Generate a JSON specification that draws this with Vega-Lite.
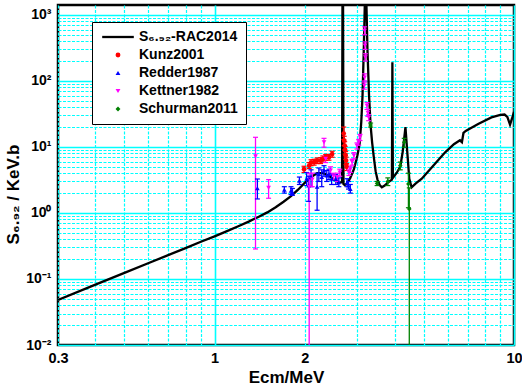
{
  "$schema": "https://vega.github.io/schema/vega-lite/v6.json",
  "width": 456,
  "height": 340,
  "autosize": {"type": "none"},
  "padding": {"left": 58, "top": 5, "right": 8, "bottom": 44},
  "background": "white",
  "config": {
    "view": {"stroke": "black", "strokeWidth": 2.5},
    "font": "Liberation Sans",
    "axis": {
      "ticks": false,
      "domain": false,
      "gridColor": "#00ffff",
      "gridOpacity": 1,
      "labelFont": "Liberation Sans",
      "labelFontWeight": "bold",
      "labelColor": "black",
      "titleFont": "Liberation Sans",
      "titleFontWeight": "bold",
      "titleColor": "black",
      "titleFontSize": 17,
      "labelOverlap": false,
      "labelFlush": false,
      "labelBound": false
    }
  },
  "datasets": {
    "curve": [
      {"s": "S₆.₉₂-RAC2014", "x": 0.3, "y": 0.048},
      {"s": "S₆.₉₂-RAC2014", "x": 0.4, "y": 0.082},
      {"s": "S₆.₉₂-RAC2014", "x": 0.5, "y": 0.124},
      {"s": "S₆.₉₂-RAC2014", "x": 0.6, "y": 0.173},
      {"s": "S₆.₉₂-RAC2014", "x": 0.7, "y": 0.23},
      {"s": "S₆.₉₂-RAC2014", "x": 0.8, "y": 0.294},
      {"s": "S₆.₉₂-RAC2014", "x": 0.9, "y": 0.366},
      {"s": "S₆.₉₂-RAC2014", "x": 1.0, "y": 0.442},
      {"s": "S₆.₉₂-RAC2014", "x": 1.1, "y": 0.53},
      {"s": "S₆.₉₂-RAC2014", "x": 1.2, "y": 0.63},
      {"s": "S₆.₉₂-RAC2014", "x": 1.3, "y": 0.74},
      {"s": "S₆.₉₂-RAC2014", "x": 1.4, "y": 0.87},
      {"s": "S₆.₉₂-RAC2014", "x": 1.5, "y": 1.02},
      {"s": "S₆.₉₂-RAC2014", "x": 1.6, "y": 1.22},
      {"s": "S₆.₉₂-RAC2014", "x": 1.7, "y": 1.48},
      {"s": "S₆.₉₂-RAC2014", "x": 1.8, "y": 1.8},
      {"s": "S₆.₉₂-RAC2014", "x": 1.9, "y": 2.25},
      {"s": "S₆.₉₂-RAC2014", "x": 2.0, "y": 2.85},
      {"s": "S₆.₉₂-RAC2014", "x": 2.1, "y": 3.5},
      {"s": "S₆.₉₂-RAC2014", "x": 2.2, "y": 4.0},
      {"s": "S₆.₉₂-RAC2014", "x": 2.3, "y": 4.0},
      {"s": "S₆.₉₂-RAC2014", "x": 2.4, "y": 3.7},
      {"s": "S₆.₉₂-RAC2014", "x": 2.5, "y": 3.2},
      {"s": "S₆.₉₂-RAC2014", "x": 2.6, "y": 2.9},
      {"s": "S₆.₉₂-RAC2014", "x": 2.665, "y": 2.9},
      {"s": "S₆.₉₂-RAC2014", "x": 2.68, "y": 100000},
      {"s": "S₆.₉₂-RAC2014", "x": 2.695, "y": 2.75},
      {"s": "S₆.₉₂-RAC2014", "x": 2.72, "y": 2.65},
      {"s": "S₆.₉₂-RAC2014", "x": 2.77, "y": 2.8},
      {"s": "S₆.₉₂-RAC2014", "x": 2.84, "y": 3.4},
      {"s": "S₆.₉₂-RAC2014", "x": 2.92, "y": 4.6},
      {"s": "S₆.₉₂-RAC2014", "x": 3.0, "y": 7.5},
      {"s": "S₆.₉₂-RAC2014", "x": 3.05, "y": 11},
      {"s": "S₆.₉₂-RAC2014", "x": 3.09, "y": 24},
      {"s": "S₆.₉₂-RAC2014", "x": 3.12, "y": 60},
      {"s": "S₆.₉₂-RAC2014", "x": 3.15, "y": 300},
      {"s": "S₆.₉₂-RAC2014", "x": 3.195, "y": 5000},
      {"s": "S₆.₉₂-RAC2014", "x": 3.24, "y": 300},
      {"s": "S₆.₉₂-RAC2014", "x": 3.28, "y": 60},
      {"s": "S₆.₉₂-RAC2014", "x": 3.32, "y": 21},
      {"s": "S₆.₉₂-RAC2014", "x": 3.36, "y": 11.5},
      {"s": "S₆.₉₂-RAC2014", "x": 3.4, "y": 7.2},
      {"s": "S₆.₉₂-RAC2014", "x": 3.45, "y": 4.3},
      {"s": "S₆.₉₂-RAC2014", "x": 3.5, "y": 3.2},
      {"s": "S₆.₉₂-RAC2014", "x": 3.56, "y": 2.65},
      {"s": "S₆.₉₂-RAC2014", "x": 3.62, "y": 2.45},
      {"s": "S₆.₉₂-RAC2014", "x": 3.7, "y": 2.6},
      {"s": "S₆.₉₂-RAC2014", "x": 3.81, "y": 2.95},
      {"s": "S₆.₉₂-RAC2014", "x": 3.91, "y": 3.2},
      {"s": "S₆.₉₂-RAC2014", "x": 3.925, "y": 192},
      {"s": "S₆.₉₂-RAC2014", "x": 3.94, "y": 3.4},
      {"s": "S₆.₉₂-RAC2014", "x": 4.05, "y": 4.0},
      {"s": "S₆.₉₂-RAC2014", "x": 4.17, "y": 5.0},
      {"s": "S₆.₉₂-RAC2014", "x": 4.25, "y": 8.5},
      {"s": "S₆.₉₂-RAC2014", "x": 4.34, "y": 20},
      {"s": "S₆.₉₂-RAC2014", "x": 4.4, "y": 8.5},
      {"s": "S₆.₉₂-RAC2014", "x": 4.47, "y": 3.3},
      {"s": "S₆.₉₂-RAC2014", "x": 4.55, "y": 2.45},
      {"s": "S₆.₉₂-RAC2014", "x": 4.7, "y": 2.8},
      {"s": "S₆.₉₂-RAC2014", "x": 4.92, "y": 3.3},
      {"s": "S₆.₉₂-RAC2014", "x": 5.31, "y": 4.9},
      {"s": "S₆.₉₂-RAC2014", "x": 5.89, "y": 8.3},
      {"s": "S₆.₉₂-RAC2014", "x": 6.3, "y": 11},
      {"s": "S₆.₉₂-RAC2014", "x": 6.6, "y": 12.6},
      {"s": "S₆.₉₂-RAC2014", "x": 6.7, "y": 11.8},
      {"s": "S₆.₉₂-RAC2014", "x": 6.78, "y": 16.3},
      {"s": "S₆.₉₂-RAC2014", "x": 6.9, "y": 17.5},
      {"s": "S₆.₉₂-RAC2014", "x": 7.59, "y": 22.3},
      {"s": "S₆.₉₂-RAC2014", "x": 8.41, "y": 28},
      {"s": "S₆.₉₂-RAC2014", "x": 9.0, "y": 30.5},
      {"s": "S₆.₉₂-RAC2014", "x": 9.3, "y": 31},
      {"s": "S₆.₉₂-RAC2014", "x": 9.5, "y": 28.5},
      {"s": "S₆.₉₂-RAC2014", "x": 9.7, "y": 21.8},
      {"s": "S₆.₉₂-RAC2014", "x": 9.85, "y": 27},
      {"s": "S₆.₉₂-RAC2014", "x": 10, "y": 34}
    ],
    "pts": [
      {"s": "Kunz2001", "x": 1.99, "y": 4.6, "lo": 4.1, "hi": 5.1},
      {"s": "Kunz2001", "x": 2.07, "y": 5.2, "lo": 4.7, "hi": 5.8},
      {"s": "Kunz2001", "x": 2.1, "y": 5.8, "lo": 5.2, "hi": 6.4},
      {"s": "Kunz2001", "x": 2.15, "y": 5.9, "lo": 5.3, "hi": 6.5},
      {"s": "Kunz2001", "x": 2.2, "y": 6.2, "lo": 5.6, "hi": 6.8},
      {"s": "Kunz2001", "x": 2.26, "y": 6.2, "lo": 5.6, "hi": 6.9},
      {"s": "Kunz2001", "x": 2.3, "y": 6.6, "lo": 5.9, "hi": 7.3},
      {"s": "Kunz2001", "x": 2.35, "y": 7.0, "lo": 6.3, "hi": 7.7},
      {"s": "Kunz2001", "x": 2.41, "y": 7.0, "lo": 6.3, "hi": 7.7},
      {"s": "Kunz2001", "x": 2.47, "y": 7.8, "lo": 7.0, "hi": 8.6},
      {"s": "Kunz2001", "x": 2.7, "y": 16, "lo": 13, "hi": 20},
      {"s": "Kunz2001", "x": 2.71, "y": 12.5, "lo": 10.5, "hi": 14.5},
      {"s": "Kunz2001", "x": 2.72, "y": 10.5, "lo": 9, "hi": 12},
      {"s": "Kunz2001", "x": 2.73, "y": 9, "lo": 7.8, "hi": 10.2},
      {"s": "Kunz2001", "x": 2.74, "y": 7.5, "lo": 6.5, "hi": 8.5},
      {"s": "Kunz2001", "x": 2.75, "y": 6.2, "lo": 5.4, "hi": 7},
      {"s": "Kunz2001", "x": 2.76, "y": 5, "lo": 4.4, "hi": 5.6},
      {"s": "Redder1987", "x": 1.39, "y": 2.37, "lo": 1.63, "hi": 3.27},
      {"s": "Redder1987", "x": 1.71, "y": 2.25, "lo": 2.0, "hi": 2.5},
      {"s": "Redder1987", "x": 1.8, "y": 2.18, "lo": 1.9, "hi": 2.5},
      {"s": "Redder1987", "x": 1.82, "y": 2.06, "lo": 1.85, "hi": 2.35},
      {"s": "Redder1987", "x": 1.92, "y": 3.09, "lo": 2.7, "hi": 3.5},
      {"s": "Redder1987", "x": 2.03, "y": 3.3, "lo": 2.6, "hi": 4.1},
      {"s": "Redder1987", "x": 2.06, "y": 2.6, "lo": 1.5, "hi": 3.6},
      {"s": "Redder1987", "x": 2.1, "y": 3.5, "lo": 2.5, "hi": 4.5},
      {"s": "Redder1987", "x": 2.2, "y": 2.5, "lo": 1.1, "hi": 4.0},
      {"s": "Redder1987", "x": 2.23, "y": 3.9, "lo": 3.0, "hi": 4.8},
      {"s": "Redder1987", "x": 2.28, "y": 3.5, "lo": 2.5, "hi": 4.5},
      {"s": "Redder1987", "x": 2.32, "y": 4.4, "lo": 3.6, "hi": 5.2},
      {"s": "Redder1987", "x": 2.37, "y": 3.7, "lo": 3.0, "hi": 4.4},
      {"s": "Redder1987", "x": 2.41, "y": 3.9, "lo": 3.2, "hi": 4.6},
      {"s": "Redder1987", "x": 2.46, "y": 3.3, "lo": 2.7, "hi": 3.9},
      {"s": "Redder1987", "x": 2.54, "y": 3.27, "lo": 2.7, "hi": 3.8},
      {"s": "Redder1987", "x": 2.6, "y": 2.92, "lo": 2.5, "hi": 3.4},
      {"s": "Redder1987", "x": 2.77, "y": 2.9, "lo": 2.5, "hi": 3.3},
      {"s": "Redder1987", "x": 2.8, "y": 2.6, "lo": 2.3, "hi": 3.0},
      {"s": "Redder1987", "x": 2.84, "y": 2.3, "lo": 2.0, "hi": 2.7},
      {"s": "Kettner1982", "x": 1.37, "y": 7.2, "lo": 0.285, "hi": 14},
      {"s": "Kettner1982", "x": 1.515, "y": 2.4, "lo": 1.67, "hi": 3.2},
      {"s": "Kettner1982", "x": 2.07, "y": 2.5, "lo": 0.005, "hi": 4.0},
      {"s": "Kettner1982", "x": 2.12, "y": 3.2, "lo": 2.5, "hi": 4.0},
      {"s": "Kettner1982", "x": 2.32, "y": 11.8, "lo": 9.9, "hi": 13.5},
      {"s": "Kettner1982", "x": 2.35, "y": 6.6, "lo": 5.8, "hi": 7.4},
      {"s": "Kettner1982", "x": 2.44, "y": 4.4, "lo": 3.9, "hi": 5.0},
      {"s": "Kettner1982", "x": 2.5, "y": 3.6, "lo": 3.2, "hi": 4.0},
      {"s": "Kettner1982", "x": 2.57, "y": 3.5, "lo": 3.0, "hi": 4.0},
      {"s": "Kettner1982", "x": 2.62, "y": 4.1, "lo": 3.6, "hi": 4.6},
      {"s": "Kettner1982", "x": 2.81, "y": 4.1, "lo": 3.7, "hi": 4.5},
      {"s": "Kettner1982", "x": 2.84, "y": 4.6, "lo": 4.1, "hi": 5.1},
      {"s": "Kettner1982", "x": 2.88, "y": 5.9, "lo": 5.3, "hi": 6.5},
      {"s": "Kettner1982", "x": 2.92, "y": 7.4, "lo": 6.6, "hi": 8.2},
      {"s": "Kettner1982", "x": 2.99, "y": 10.4, "lo": 9.3, "hi": 11.5},
      {"s": "Kettner1982", "x": 3.03, "y": 11.8, "lo": 10.6, "hi": 13},
      {"s": "Kettner1982", "x": 3.06, "y": 14, "lo": 12.5, "hi": 15.5},
      {"s": "Kettner1982", "x": 3.165, "y": 85, "lo": 75, "hi": 96},
      {"s": "Kettner1982", "x": 3.17, "y": 113, "lo": 100, "hi": 128},
      {"s": "Kettner1982", "x": 3.19, "y": 228, "lo": 200, "hi": 258},
      {"s": "Kettner1982", "x": 3.18, "y": 343, "lo": 300, "hi": 390},
      {"s": "Kettner1982", "x": 3.17, "y": 577, "lo": 500, "hi": 660},
      {"s": "Kettner1982", "x": 3.23, "y": 42, "lo": 37, "hi": 47},
      {"s": "Kettner1982", "x": 3.25, "y": 33, "lo": 29, "hi": 37},
      {"s": "Kettner1982", "x": 3.27, "y": 28, "lo": 25, "hi": 31},
      {"s": "Schurman2011", "x": 3.32, "y": 21.5, "lo": 20, "hi": 23},
      {"s": "Schurman2011", "x": 3.49, "y": 2.8, "lo": 2.6, "hi": 3.0},
      {"s": "Schurman2011", "x": 3.79, "y": 3.0, "lo": 2.6, "hi": 3.4},
      {"s": "Schurman2011", "x": 4.17, "y": 5.2, "lo": 4.5, "hi": 5.9},
      {"s": "Schurman2011", "x": 4.3, "y": 11.8, "lo": 9.9, "hi": 13.5},
      {"s": "Schurman2011", "x": 4.44, "y": 2.75, "lo": 1.2, "hi": 4.0},
      {"s": "Schurman2011", "x": 4.47, "y": 1.15, "lo": 0.001, "hi": 2.4}
    ]
  },
  "layer": [
    {
      "data": {"name": "curve"},
      "mark": {"type": "line", "clip": true, "strokeWidth": 2.3},
      "encoding": {
        "x": {
          "field": "x", "type": "quantitative", "title": "Ecm/MeV",
          "scale": {"type": "log", "domain": [0.3, 10], "nice": false},
          "axis": {
            "values": [0.3, 0.4, 0.5, 0.6, 0.7, 0.8, 0.9, 1, 2, 3, 4, 5, 6, 7, 8, 9, 10],
            "labelExpr": "datum.value == 0.3 ? '0.3' : datum.value == 1 ? '1' : datum.value == 2 ? '2' : datum.value == 10 ? '10' : ''",
            "labelFontSize": 14.5,
            "labelPadding": 6,
            "gridColor": "#00ffff",
            "gridDash": {"condition": {"test": "datum.value == 1 || datum.value == 10", "value": []}, "value": [3, 1.5]},
            "gridWidth": {"condition": {"test": "datum.value == 1 || datum.value == 10", "value": 1.6}, "value": 1.2},
            "titleY": 37,
            "titleBaseline": "alphabetic"
          }
        },
        "y": {
          "field": "y", "type": "quantitative", "title": "S₆.₉₂ / KeV.b",
          "scale": {"type": "log", "domain": [0.01, 1413], "nice": false},
          "axis": {
            "values": [0.01, 0.02, 0.03, 0.04, 0.05, 0.06, 0.07, 0.08, 0.09, 0.1, 0.2, 0.3, 0.4, 0.5, 0.6, 0.7, 0.8, 0.9, 1, 2, 3, 4, 5, 6, 7, 8, 9, 10, 20, 30, 40, 50, 60, 70, 80, 90, 100, 200, 300, 400, 500, 600, 700, 800, 900, 1000],
            "labelExpr": "datum.value == 1000 ? '10³' : datum.value == 100 ? '10²' : datum.value == 10 ? '10¹' : datum.value == 1 ? '10⁰' : datum.value == 0.1 ? '10⁻¹' : datum.value == 0.01 ? '10⁻²' : ''",
            "labelFontSize": 14,
            "labelPadding": 7,
            "gridColor": "#00ffff",
            "gridDash": {"condition": {"test": "indexof([0.01, 0.1, 1, 10, 100, 1000], datum.value) >= 0", "value": []}, "value": [3, 1.5]},
            "gridWidth": {"condition": {"test": "indexof([0.01, 0.1, 1, 10, 100, 1000], datum.value) >= 0", "value": 1.6}, "value": 1.2},
            "titleX": -36,
            "titleY": 189,
            "titleAngle": 270,
            "titleAlign": "center",
            "titleBaseline": "bottom"
          }
        },
        "color": {
          "field": "s", "type": "nominal",
          "scale": {"domain": ["S₆.₉₂-RAC2014", "Kunz2001", "Redder1987", "Kettner1982", "Schurman2011"], "range": ["black", "#ff0000", "#0000ff", "#ff00ff", "#008000"]},
          "legend": {
            "title": null, "orient": "none", "legendX": 34, "legendY": 17,
            "padding": 8, "strokeColor": "black", "fillColor": "white",
            "labelFont": "Liberation Sans", "labelFontSize": 14, "labelFontWeight": "bold", "labelColor": "black",
            "symbolSize": 1000, "symbolOffset": 11, "labelOffset": 14, "rowPadding": 4, "symbolOpacity": 1,
            "encode": {"symbols": {"update": {
              "size": {"signal": "datum.value === 'S₆.₉₂-RAC2014' ? 1000 : 24"},
              "stroke": {"scale": "color", "field": "value"},
              "strokeWidth": {"signal": "datum.value === 'S₆.₉₂-RAC2014' ? 2.3 : 0"}
            }}}
          }
        }
      }
    },
    {
      "data": {"name": "pts"},
      "mark": {"type": "rule", "clip": true, "strokeWidth": 1.3},
      "encoding": {
        "x": {"field": "x", "type": "quantitative", "title": "Ecm/MeV"},
        "y": {"field": "lo", "type": "quantitative", "title": "S₆.₉₂ / KeV.b"},
        "y2": {"field": "hi"},
        "color": {"field": "s", "type": "nominal", "legend": null}
      }
    },
    {
      "data": {"name": "pts"},
      "mark": {"type": "tick", "clip": true, "orient": "horizontal", "size": 5, "thickness": 1.2, "opacity": 1},
      "encoding": {
        "x": {"field": "x", "type": "quantitative", "title": "Ecm/MeV"},
        "y": {"field": "lo", "type": "quantitative", "title": "S₆.₉₂ / KeV.b"},
        "color": {"field": "s", "type": "nominal", "legend": null}
      }
    },
    {
      "data": {"name": "pts"},
      "mark": {"type": "tick", "clip": true, "orient": "horizontal", "size": 5, "thickness": 1.2, "opacity": 1},
      "encoding": {
        "x": {"field": "x", "type": "quantitative", "title": "Ecm/MeV"},
        "y": {"field": "hi", "type": "quantitative", "title": "S₆.₉₂ / KeV.b"},
        "color": {"field": "s", "type": "nominal", "legend": null}
      }
    },
    {
      "data": {"name": "pts"},
      "mark": {"type": "point", "filled": true, "clip": true, "size": 22, "opacity": 1},
      "encoding": {
        "x": {"field": "x", "type": "quantitative", "title": "Ecm/MeV"},
        "y": {"field": "y", "type": "quantitative", "title": "S₆.₉₂ / KeV.b"},
        "color": {
          "field": "s", "type": "nominal",
          "legend": {
            "title": null, "orient": "none", "legendX": 34, "legendY": 17,
            "padding": 8, "strokeColor": "black", "fillColor": "white",
            "labelFont": "Liberation Sans", "labelFontSize": 14, "labelFontWeight": "bold", "labelColor": "black",
            "symbolSize": 1000, "symbolOffset": 11, "labelOffset": 14, "rowPadding": 4, "symbolOpacity": 1,
            "encode": {"symbols": {"update": {
              "size": {"signal": "datum.value === 'S₆.₉₂-RAC2014' ? 1000 : 24"},
              "stroke": {"scale": "color", "field": "value"},
              "strokeWidth": {"signal": "datum.value === 'S₆.₉₂-RAC2014' ? 2.3 : 0"}
            }}}
          }
        },
        "shape": {
          "field": "s", "type": "nominal",
          "scale": {"domain": ["S₆.₉₂-RAC2014", "Kunz2001", "Redder1987", "Kettner1982", "Schurman2011"], "range": ["stroke", "circle", "triangle-up", "triangle-down", "diamond"]},
          "legend": {
            "title": null, "orient": "none", "legendX": 34, "legendY": 17,
            "padding": 8, "strokeColor": "black", "fillColor": "white",
            "labelFont": "Liberation Sans", "labelFontSize": 14, "labelFontWeight": "bold", "labelColor": "black",
            "symbolSize": 1000, "symbolOffset": 11, "labelOffset": 14, "rowPadding": 4, "symbolOpacity": 1,
            "encode": {"symbols": {"update": {
              "size": {"signal": "datum.value === 'S₆.₉₂-RAC2014' ? 1000 : 24"},
              "stroke": {"scale": "color", "field": "value"},
              "strokeWidth": {"signal": "datum.value === 'S₆.₉₂-RAC2014' ? 2.3 : 0"}
            }}}
          }
        }
      }
    }
  ]
}
